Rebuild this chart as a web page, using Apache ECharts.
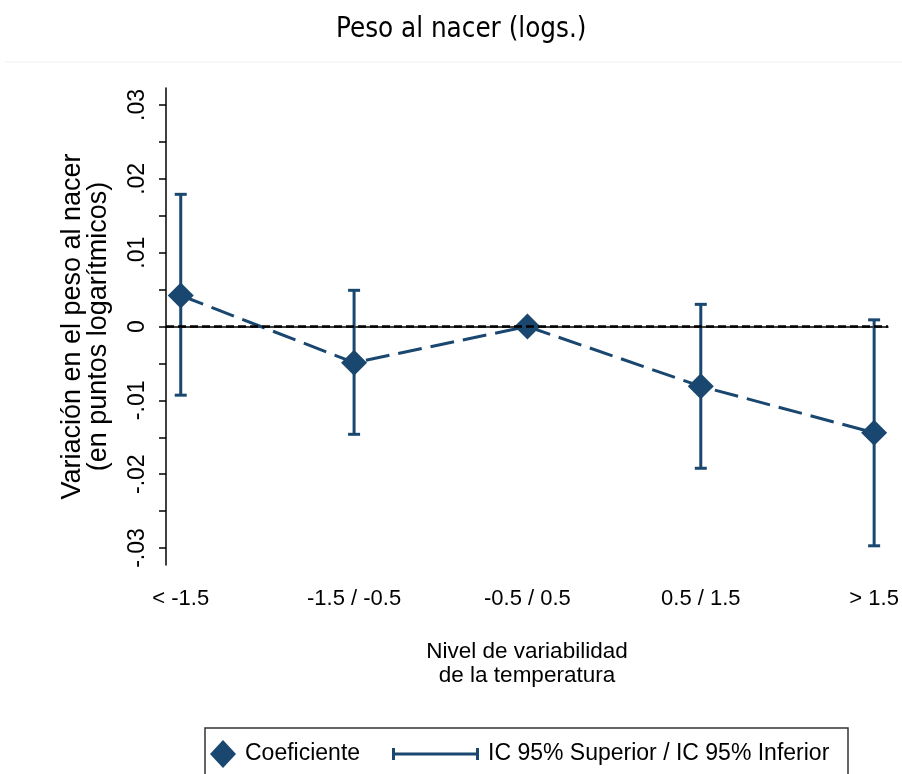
<!DOCTYPE html>
<html>
<head>
<meta charset="utf-8">
<script src="https://cdn.jsdelivr.net/npm/echarts@6/dist/echarts.min.js"></script>
<style>
  html, body { margin: 0; padding: 0; background: #fff; }
  #chart { width: 902px; height: 774px; }
</style>
</head>
<body>
<div id="chart"></div>
<script>
// datos
var categories = ["< -1.5", "-1.5 / -0.5", "-0.5 / 0.5", "0.5 / 1.5", "> 1.5"];
var coef = [0.0042, -0.0049, 0, -0.0081, -0.0144];
var ciUpper = [0.0179, 0.0049, 0, 0.0030, 0.0009];
var ciLower = [-0.0093, -0.0146, 0, -0.0192, -0.0297];
var yLabelValues = [-0.03, -0.02, -0.01, 0, 0.01, 0.02, 0.03];
var yTickValues = [-0.03, -0.025, -0.02, -0.015, -0.01, -0.005, 0, 0.005, 0.01, 0.015, 0.02, 0.025, 0.03];

var navy = "#1a476f";
var font = "Liberation Sans";

function fmtY(v) {
  var r = Math.round(v * 100) / 100;
  if (r === 0) return "0";
  return r.toFixed(2).replace("0.", ".");
}

var chart = echarts.init(document.getElementById("chart"));

var option = {
  animation: false,
  backgroundColor: "#fff",
  title: {
    text: "Peso al nacer (logs.)",
    left: 331,
    top: 11,
    textStyle: { fontFamily: "DejaVu Sans Condensed", fontSize: 27.5, fontWeight: "normal", color: "#000" }
  },
  graphic: [
    {
      type: "line",
      shape: { x1: 5, y1: 62, x2: 902, y2: 62 },
      style: { stroke: "#eeeeee", lineWidth: 1 }
    },
    {
      type: "rect",
      shape: { x: 205, y: 728, width: 643, height: 60 },
      style: { fill: "none", stroke: "#333", lineWidth: 1.5 }
    }
  ],
  legend: [
    {
      left: 210,
      top: 740,
      padding: 0,
      selectedMode: false,
      itemWidth: 26,
      itemHeight: 28,
      textStyle: { fontFamily: font, fontSize: 23, color: "#000", padding: [0, 0, 0, 4] },
      data: [{ name: "Coeficiente", icon: "diamond" }]
    },
    {
      left: 392,
      top: 741,
      padding: 0,
      selectedMode: false,
      itemWidth: 87,
      itemHeight: 12,
      textStyle: { fontFamily: font, fontSize: 23, lineHeight: 26, color: "#000", padding: [0, 0, 0, 4] },
      data: [{
        name: "IC 95% Superior / IC 95% Inferior",
        icon: "path://M0,0h3v12h-3z M0,4.5h87v3h-87z M84,0h3v12h-3z"
      }]
    }
  ],
  grid: { left: 166, right: 14, top: 88, bottom: 209 },
  xAxis: {
    type: "value",
    min: 0.915,
    max: 5.08,
    name: "Nivel de variabilidad\nde la temperatura",
    nameLocation: "middle",
    nameGap: 75,
    nameTextStyle: { fontFamily: font, fontSize: 22.5, color: "#000", lineHeight: 24, verticalAlign: "top" },
    splitLine: { show: false },
    axisLine: { lineStyle: { color: "#000", width: 1.5 } },
    axisTick: { length: 11, lineStyle: { color: "#000", width: 1.5 }, customValues: [1, 2, 3, 4, 5] },
    axisLabel: {
      customValues: [1, 2, 3, 4, 5],
      margin: 23,
      fontFamily: font,
      fontSize: 22,
      color: "#000",
      formatter: function (v) { return categories[Math.round(v) - 1]; }
    }
  },
  yAxis: {
    type: "value",
    min: -0.0323,
    max: 0.0323,
    name: "Variación en el peso al nacer\n(en puntos logarítmicos)",
    nameLocation: "middle",
    nameRotate: 90,
    nameGap: 54,
    nameTextStyle: { fontFamily: font, fontSize: 27, color: "#000", lineHeight: 26 },
    splitLine: { show: false },
    axisLine: { show: true, lineStyle: { color: "#000", width: 1.5 } },
    axisTick: { show: true, length: 7, lineStyle: { color: "#000", width: 1.5 }, customValues: yTickValues },
    axisLabel: {
      customValues: yLabelValues,
      rotate: 90,
      margin: 17,
      fontFamily: font,
      fontSize: 23,
      color: "#000",
      formatter: fmtY
    }
  },
  series: [
    {
      name: "IC 95% Superior / IC 95% Inferior",
      type: "custom",
      z: 2,
      itemStyle: { color: navy },
      encode: { x: 0, y: [1, 2] },
      data: categories.map(function (c, i) { return [i + 1, ciUpper[i], ciLower[i]]; }),
      renderItem: function (params, api) {
        var x = api.value(0);
        var hi = api.coord([x, api.value(1)]);
        var lo = api.coord([x, api.value(2)]);
        var hw = 6;
        var st = { stroke: navy, lineWidth: 3 };
        return {
          type: "group",
          children: [
            { type: "line", shape: { x1: hi[0], y1: hi[1], x2: lo[0], y2: lo[1] }, style: st },
            { type: "line", shape: { x1: hi[0] - hw, y1: hi[1], x2: hi[0] + hw, y2: hi[1] }, style: st },
            { type: "line", shape: { x1: lo[0] - hw, y1: lo[1], x2: lo[0] + hw, y2: lo[1] }, style: st }
          ]
        };
      }
    },
    {
      name: "Coeficiente",
      type: "line",
      z: 3,
      symbol: "diamond",
      symbolSize: 26,
      itemStyle: { color: navy },
      lineStyle: { color: navy, width: 3, type: [24, 9] },
      data: categories.map(function (c, i) { return [i + 1, coef[i]]; }),
      markLine: {
        silent: true,
        symbol: "none",
        label: { show: false },
        lineStyle: { color: "#000", width: 2.5, type: [8, 4] },
        data: [{ yAxis: 0 }]
      }
    }
  ]
};

chart.setOption(option);
</script>
</body>
</html>
